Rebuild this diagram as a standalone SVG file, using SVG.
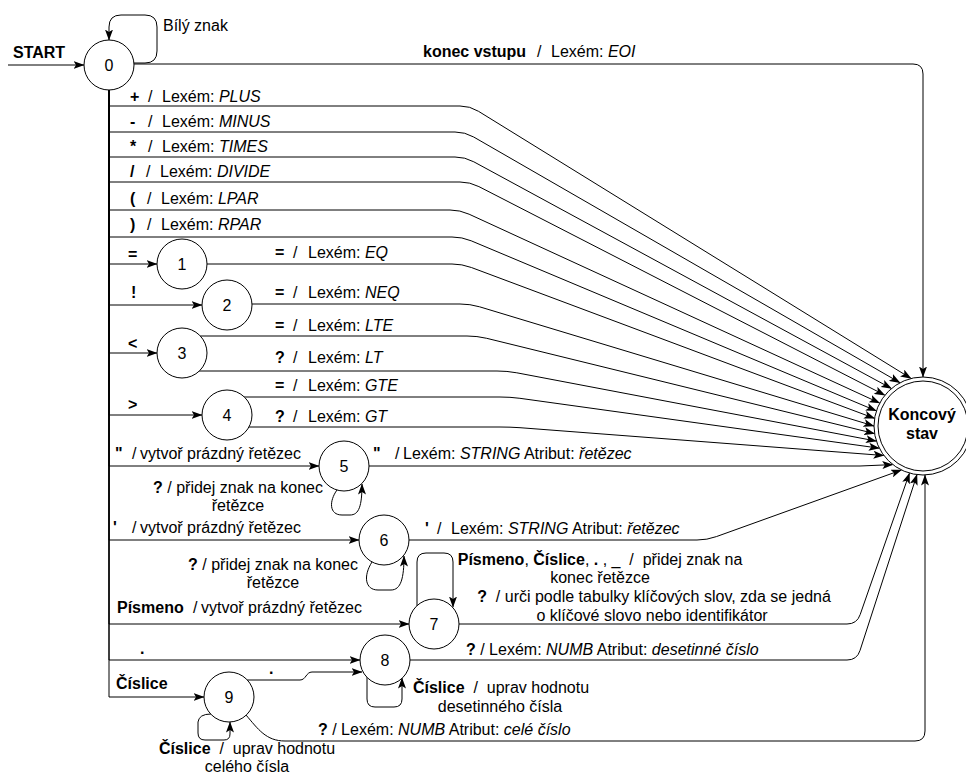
<svg xmlns="http://www.w3.org/2000/svg" width="966" height="774" viewBox="0 0 966 774" xml:space="preserve">
<style>
.e{fill:none;stroke:#000;stroke-width:1;marker-end:url(#arr);}
.s{fill:#fff;stroke:#000;stroke-width:1;}
text{font-family:"Liberation Sans",Arial,sans-serif;font-size:16px;fill:#000;white-space:pre;}
.b{font-weight:bold;}
.i{font-style:italic;}
.m{text-anchor:middle;}
</style>
<defs>
<marker id="arr" markerWidth="11" markerHeight="8" viewBox="0 0 11 8" refX="10.5" refY="4" orient="auto" markerUnits="userSpaceOnUse"><path d="M0,0 L11,4 L0,8 L2.5,4 Z" fill="#000"/></marker>
</defs>
<rect width="966" height="774" fill="#fff"/>
<g id="connectors">
<path class="e" d="M8,65 H84"/>
<path class="e" d="M134,63 H145 Q157,63 157,51 V27 Q157,15 145,15 H121 Q109,15 109,27 V40"/>
<path class="e" d="M134,64 H913 Q923,64 923,74 V377"/>
<path class="e" d="M109,90 V106 H460 Q470,106 478.5,111.3 L911.1,378.5"/>
<path class="e" d="M109,90 V132 H455 Q465,132 473.7,137 L900,382.7"/>
<path class="e" d="M109,90 V157 H455 Q465,157 473.8,161.8 L891.5,388.5"/>
<path class="e" d="M109,90 V182 H460 Q470,182 478.9,186.6 L884.9,395.2"/>
<path class="e" d="M109,90 V210 H450 Q460,210 469.1,214.2 L879.7,403"/>
<path class="e" d="M109,90 V237 H452 Q462,237 471.2,240.8 L876.4,410.9"/>
<path class="e" d="M109,90 V264 H157"/>
<path class="e" d="M109,90 V305 H202"/>
<path class="e" d="M109,90 V353 H157"/>
<path class="e" d="M109,90 V415 H202"/>
<path class="e" d="M109,90 V466 H319"/>
<path class="e" d="M109,90 V540 H359"/>
<path class="e" d="M109,90 V624 H409"/>
<path class="e" d="M109,90 V660 H360"/>
<path class="e" d="M109,90 V697 H204"/>
<path class="e" d="M207,264 H452 Q462,264 471.4,267.5 L874.6,418.4"/>
<path class="e" d="M252,304 H460 Q470,304 479.6,306.8 L874,426"/>
<path class="e" d="M200,336 H467 Q477,336 486.7,338.3 L874.6,433.6"/>
<path class="e" d="M199,371 H497 Q507,371 516.8,372.8 L876.4,441.1"/>
<path class="e" d="M244,397 H500 Q510,397 519.9,398.3 L879.3,448.2"/>
<path class="e" d="M249,427 H500 Q510,427 520,427.7 L883.9,455.5"/>
<path class="e" d="M369,466 H860 L892.8,464.6"/>
<path class="e" d="M337,490 C329,501 329,515 342,515 H350 C359,515 362,506 362,484"/>
<path class="e" d="M408,540 H697 Q707,540 716.4,536.6 L901.5,470"/>
<path class="e" d="M372,562 C363,576 365,590 378,590 H391 C401,590 404,578 404,556"/>
<path class="e" d="M459,624 H847 Q857,624 860.2,614.5 L909.5,473.1"/>
<path class="e" d="M417,606 V562 Q417,553 426,553 H444 Q453,553 453,562 V607"/>
<path class="e" d="M410,660 H847 Q857,660 860,650.5 L917,474.6"/>
<path class="e" d="M367,677 V699 Q367,707 375,707 H394 Q402,707 402,699 V678"/>
<path class="e" d="M246,680 H300 C306,680 306,672 312,672 H362"/>
<path class="e" d="M246,715 C258,729 266,741 285,741 H915 Q925,741 925,731 V475"/>
<path class="e" d="M211,714 Q199,714 198,722 V733 Q198,740 205,740 H224 Q230,740 230,734 V722"/>
</g>
<g id="edge-labels">
<text class="b" x="13" y="58">START</text>
<text x="163" y="31">Bílý znak</text>
<text y="57"><tspan class="b" x="423">konec vstupu</tspan><tspan x="537">/</tspan><tspan x="551">Lexém: </tspan><tspan class="i">EOI</tspan></text>
<text y="102"><tspan class="b" x="130">+</tspan><tspan x="148">/</tspan><tspan x="162">Lexém: </tspan><tspan class="i">PLUS</tspan></text>
<text y="127"><tspan class="b" x="130">-</tspan><tspan x="148">/</tspan><tspan x="162">Lexém: </tspan><tspan class="i">MINUS</tspan></text>
<text y="152"><tspan class="b" x="130">*</tspan><tspan x="148">/</tspan><tspan x="162">Lexém: </tspan><tspan class="i">TIMES</tspan></text>
<text y="177"><tspan class="b" x="130">/</tspan><tspan x="146">/</tspan><tspan x="160">Lexém: </tspan><tspan class="i">DIVIDE</tspan></text>
<text y="204"><tspan class="b" x="130">(</tspan><tspan x="147">/</tspan><tspan x="161">Lexém: </tspan><tspan class="i">LPAR</tspan></text>
<text y="230"><tspan class="b" x="130">)</tspan><tspan x="147">/</tspan><tspan x="161">Lexém: </tspan><tspan class="i">RPAR</tspan></text>
<text class="b" x="128" y="260">=</text>
<text class="b" x="131" y="298">!</text>
<text class="b" x="128" y="349">&lt;</text>
<text class="b" x="128" y="410">&gt;</text>
<text y="459"><tspan class="b" x="115">"</tspan><tspan x="132">/</tspan><tspan x="140">vytvoř prázdný řetězec</tspan></text>
<text y="533"><tspan class="b" x="113">'</tspan><tspan x="132">/</tspan><tspan x="140">vytvoř prázdný řetězec</tspan></text>
<text y="613"><tspan class="b" x="117">Písmeno</tspan><tspan x="193">/</tspan><tspan x="201">vytvoř prázdný řetězec</tspan></text>
<text class="b" x="140" y="654">.</text>
<text class="b" x="116" y="689">Číslice</text>
<text class="b" x="269" y="674">.</text>
<text y="258"><tspan class="b" x="275">=</tspan><tspan x="293">/</tspan><tspan x="308">Lexém: </tspan><tspan class="i">EQ</tspan></text>
<text y="298"><tspan class="b" x="275">=</tspan><tspan x="293">/</tspan><tspan x="308">Lexém: </tspan><tspan class="i">NEQ</tspan></text>
<text y="331"><tspan class="b" x="275">=</tspan><tspan x="293">/</tspan><tspan x="308">Lexém: </tspan><tspan class="i">LTE</tspan></text>
<text y="363"><tspan class="b" x="275">?</tspan><tspan x="293">/</tspan><tspan x="308">Lexém: </tspan><tspan class="i">LT</tspan></text>
<text y="391"><tspan class="b" x="275">=</tspan><tspan x="293">/</tspan><tspan x="308">Lexém: </tspan><tspan class="i">GTE</tspan></text>
<text y="422"><tspan class="b" x="275">?</tspan><tspan x="293">/</tspan><tspan x="308">Lexém: </tspan><tspan class="i">GT</tspan></text>
<text y="459"><tspan class="b" x="373">"</tspan><tspan x="395">/</tspan><tspan x="403">Lexém: </tspan><tspan class="i">STRING</tspan><tspan> Atribut: </tspan><tspan class="i">řetězec</tspan></text>
<text class="m" x="238" y="493"><tspan class="b">?</tspan> / přidej znak na konec</text>
<text class="m" x="238" y="511">řetězce</text>
<text y="534"><tspan class="b" x="425">'</tspan><tspan x="437">/</tspan><tspan x="451">Lexém: </tspan><tspan class="i">STRING</tspan><tspan> Atribut: </tspan><tspan class="i">řetězec</tspan></text>
<text class="m" x="273" y="570"><tspan class="b">?</tspan> / přidej znak na konec</text>
<text class="m" x="273" y="588">řetězce</text>
<text class="m" x="600" y="565"><tspan class="b">Písmeno</tspan>, <tspan class="b">Číslice</tspan>, <tspan class="b">.</tspan> , _  /  přidej znak na</text>
<text class="m" x="600" y="583">konec řetězce</text>
<text class="m" x="654" y="602"><tspan class="b">?</tspan>  / urči podle tabulky klíčových slov, zda se jedná</text>
<text class="m" x="652" y="621">o klíčové slovo nebo identifikátor</text>
<text x="466" y="655"><tspan class="b">?</tspan> / Lexém: <tspan class="i">NUMB</tspan> Atribut: <tspan class="i">desetinné číslo</tspan></text>
<text class="m" x="501" y="693"><tspan class="b">Číslice</tspan>  /  uprav hodnotu</text>
<text class="m" x="500" y="712">desetinného čísla</text>
<text x="318" y="735"><tspan class="b">?</tspan> / Lexém: <tspan class="i">NUMB</tspan> Atribut: <tspan class="i">celé číslo</tspan></text>
<text class="m" x="247" y="754"><tspan class="b">Číslice</tspan>  /  uprav hodnotu</text>
<text class="m" x="247" y="772">celého čísla</text>
</g>
<g id="state0"><circle class="s" cx="109" cy="65" r="25"/><text class="m" x="109" y="71">0</text></g>
<g id="state1"><circle class="s" cx="182" cy="264" r="25"/><text class="m" x="182" y="270">1</text></g>
<g id="state2"><circle class="s" cx="227" cy="305" r="25"/><text class="m" x="227" y="311">2</text></g>
<g id="state3"><circle class="s" cx="182" cy="353" r="25"/><text class="m" x="182" y="359">3</text></g>
<g id="state4"><circle class="s" cx="227" cy="415" r="25"/><text class="m" x="227" y="421">4</text></g>
<g id="state5"><circle class="s" cx="344" cy="466" r="25"/><text class="m" x="344" y="472">5</text></g>
<g id="state6"><circle class="s" cx="384" cy="540" r="25"/><text class="m" x="384" y="546">6</text></g>
<g id="state7"><circle class="s" cx="434" cy="624" r="25"/><text class="m" x="434" y="630">7</text></g>
<g id="state8"><circle class="s" cx="385" cy="660" r="25"/><text class="m" x="385" y="666">8</text></g>
<g id="state9"><circle class="s" cx="229" cy="697" r="25"/><text class="m" x="229" y="703">9</text></g>
<g id="final"><circle class="s" cx="923" cy="426" r="49"/><circle class="s" cx="923" cy="426" r="45"/><text class="m b" x="922" y="420">Koncový</text><text class="m b" x="922" y="439">stav</text></g>
</svg>
